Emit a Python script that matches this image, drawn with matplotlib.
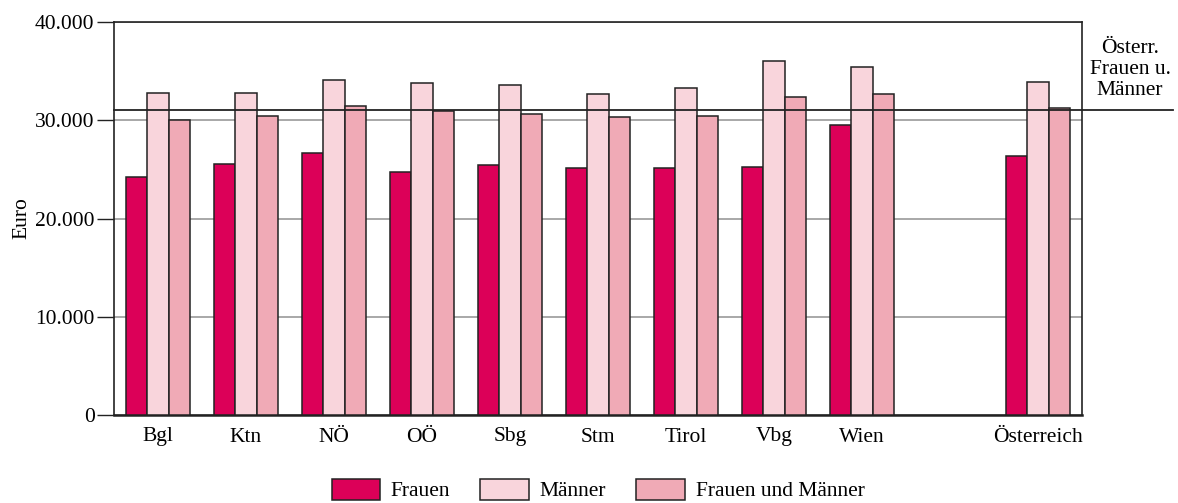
import numpy as np
import matplotlib
matplotlib.use("Agg")
import matplotlib.pyplot as plt
from matplotlib.patches import Patch

regions = ["Bgl", "Ktn", "NÖ", "OÖ", "Sbg", "Stm", "Tirol", "Vbg", "Wien", "", "Österreich"]
frauen = [24250, 25550, 26700, 24700, 25400, 25100, 25100, 25200, 29550, np.nan, 26400]
maenner = [32800, 32800, 34100, 33800, 33600, 32700, 33250, 36000, 35450, np.nan, 33900]
beide = [30050, 30450, 31500, 30900, 30600, 30300, 30450, 32350, 32650, np.nan, 31200]
oesterr_mean = 31050

series = [("Frauen", frauen, "#DC0058"),
          ("Männer", maenner, "#F9D5DC"),
          ("Frauen und Männer", beide, "#F0AAB6")]

FS = 15.5
plt.rcParams["font.family"] = ["Liberation Serif", "DejaVu Serif"]
fig = plt.figure(figsize=(11.78, 5.03), dpi=100)
ax = fig.add_axes([114 / 1178, 1 - 415 / 503, (1082 - 114) / 1178, (415 - 22) / 503])

x = np.arange(len(regions))
w = 0.24
for i, (name, vals, col) in enumerate(series):
    ax.bar(x + (i - 1) * w, vals, width=w, color=col, edgecolor="#222222",
           linewidth=1.1, zorder=3, label=name)

ax.set_xlim(-0.5, 10.5)
ax.set_ylim(0, 40000)
ax.set_yticks([0, 10000, 20000, 30000, 40000])
ax.set_yticklabels(["0", "10.000", "20.000", "30.000", "40.000"], fontsize=FS)
ax.set_xticks(x)
ax.set_xticklabels(regions, fontsize=FS)
ax.tick_params(axis="x", length=0, pad=9)
ax.tick_params(axis="y", length=12, width=1, color="#222222", pad=2)
ax.grid(axis="y", color="#999999", linewidth=1.2, zorder=0)
for s in ax.spines.values():
    s.set_color("#222222")
    s.set_linewidth(1.2)
ax.spines["bottom"].set_linewidth(1.8)
ax.set_ylabel("Euro", fontsize=FS, labelpad=2.5)

# Österreich-Durchschnitt als Referenzlinie, über die Achse hinaus
ax.axhline(oesterr_mean, xmin=0, xmax=(1173 - 114) / (1082 - 114), color="#222222",
           linewidth=1.3, zorder=4, clip_on=False)
ax.text(1.0496, 0.88, "Österr.\nFrauen u.\nMänner", transform=ax.transAxes,
        ha="center", va="center", fontsize=FS, linespacing=1.15)

handles = [Patch(facecolor=c, edgecolor="#222222", linewidth=1.1, label=n) for n, _, c in series]
fig.legend(handles=handles, loc="center", bbox_to_anchor=(598 / 1178, 1 - 490 / 503), ncol=3,
           frameon=False, fontsize=FS, handlelength=2.25, handleheight=1.15,
           columnspacing=1.4, handletextpad=0.5)

fig.savefig("out.png", dpi=100)
